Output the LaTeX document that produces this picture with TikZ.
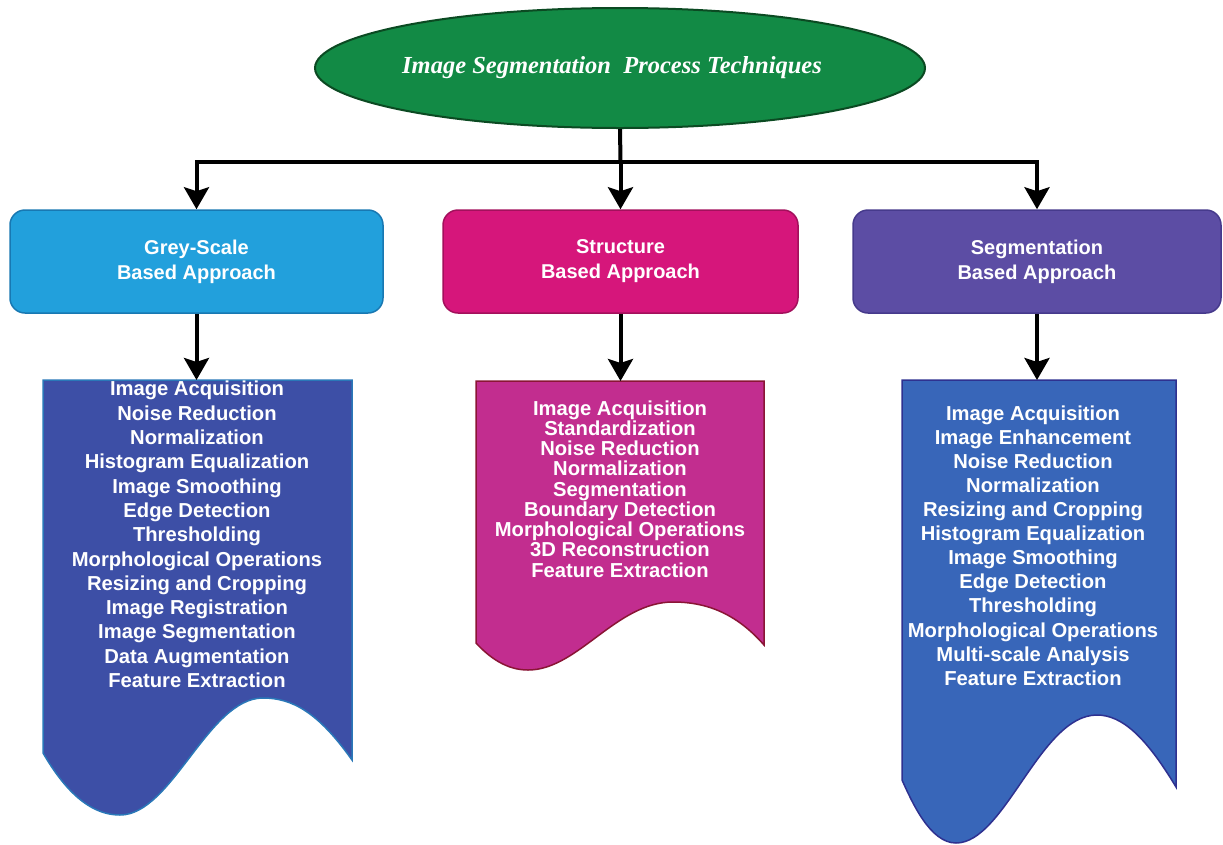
\documentclass[tikz,border=0pt]{standalone}
\usepackage{fontspec}
\setmainfont{Liberation Sans}
\newfontfamily\titlefont{Liberation Serif}
\usetikzlibrary{arrows.meta,shapes.geometric}

\definecolor{rootfill}{HTML}{128A45}
\definecolor{rootline}{HTML}{0B4A22}
\definecolor{greyfill}{HTML}{22A0DC}
\definecolor{greyline}{HTML}{1878B2}
\definecolor{structfill}{HTML}{D6167B}
\definecolor{structline}{HTML}{A3105C}
\definecolor{segfill}{HTML}{5C4DA4}
\definecolor{segline}{HTML}{463A8C}
\definecolor{greydoc}{HTML}{3D4FA6}
\definecolor{greydocline}{HTML}{2A78B8}
\definecolor{structdoc}{HTML}{C22D8F}
\definecolor{structdocline}{HTML}{8A1535}
\definecolor{segdoc}{HTML}{3866B9}
\definecolor{segdocline}{HTML}{2E3190}

\tikzset{
  approach/.style={rounded corners=15pt, line width=1.5pt, minimum height=103pt,
    align=center, text=white, font=\bfseries\fontsize{20}{25}\selectfont},
  conn/.style={line width=4pt, black},
  arr/.style={conn, -{Stealth[width=25pt,length=22pt,inset=4pt]}},
  docshape/.style={line width=1.5pt},
  listtext/.style={align=center, text=white, inner sep=0pt,
    font=\bfseries\fontsize{20.2}{24.3}\selectfont},
}

\begin{document}
\begin{tikzpicture}[x=1pt,y=-1pt]
\useasboundingbox (0,0) rectangle (1223,844);

% root ellipse and its caption
\node[ellipse, fill=rootfill, draw=rootline, line width=2pt,
      minimum width=610pt, minimum height=120pt] (root) at (620,68) {};
\node[text=white, inner sep=0pt,
      font=\titlefont\bfseries\itshape\fontsize{24.5}{28}\selectfont]
      (title) at (612,68) {Image Segmentation\ \ Process Techniques};

% three approach boxes
\node[approach, fill=greyfill, draw=greyline, minimum width=373pt]
      (grey) at (196.5,261.5) {Grey-Scale\\Based Approach};
\node[approach, fill=structfill, draw=structline, minimum width=355pt]
      (struct) at (620.5,261.5) {Structure\\Based Approach};
\node[approach, fill=segfill, draw=segline, minimum width=368pt]
      (seg) at (1037,261.5) {Segmentation\\Based Approach};

% document shapes with wavy bottoms
\draw[docshape, fill=greydoc, draw=greydocline]
  (43,380) -- (352,380) -- (352,760)
  .. controls (318,712) and (292,698) .. (263,698)
  .. controls (208,698) and (172,815) .. (120,815)
  .. controls (85,815) and (60,782) .. (43,753) -- cycle;
\coordinate (greydocTop) at (196.5,380);

\draw[docshape, fill=structdoc, draw=structdocline]
  (476,381) -- (764,381) -- (764,645)
  .. controls (736,613) and (706,602) .. (673,602)
  .. controls (616,602) and (578,670) .. (528,670)
  .. controls (506,670) and (489,657) .. (476,643) -- cycle;
\coordinate (structdocTop) at (620.5,381);

\draw[docshape, fill=segdoc, draw=segdocline]
  (902,380) -- (1176,380) -- (1176,787)
  .. controls (1146,737) and (1122,715) .. (1097,715)
  .. controls (1040,715) and (1005,843) .. (956,843)
  .. controls (930,843) and (912,802) .. (902,780) -- cycle;
\coordinate (segdocTop) at (1037,380);

% step lists
\node[listtext] (greylist) at (197,534.5) {Image Acquisition\\Noise Reduction\\Normalization\\Histogram Equalization\\Image Smoothing\\Edge Detection\\Thresholding\\Morphological Operations\\Resizing and Cropping\\Image Registration\\Image Segmentation\\Data Augmentation\\Feature Extraction};
\node[listtext, font=\bfseries\fontsize{20.2}{20.25}\selectfont] (structlist) at (620,489) {Image Acquisition\\Standardization\\Noise Reduction\\Normalization\\Segmentation\\Boundary Detection\\Morphological Operations\\3D Reconstruction\\Feature Extraction};
\node[listtext, font=\bfseries\fontsize{20.2}{24.1}\selectfont] (seglist) at (1033,545.5) {Image Acquisition\\Image Enhancement\\Noise Reduction\\Normalization\\Resizing and Cropping\\Histogram Equalization\\Image Smoothing\\Edge Detection\\Thresholding\\Morphological Operations\\Multi-scale Analysis\\Feature Extraction};

% connectors
\coordinate (hub) at (620.5,162);
\coordinate (hubL) at (196.5,162);
\coordinate (hubR) at (1037,162);
\draw[conn] (root.south) -- (hub);
\draw[conn, line cap=rect] (hubL) -- (hubR);
\draw[arr] (hubL) -- (grey.north);
\draw[arr] (hub) -- (struct.north);
\draw[arr] (hubR) -- (seg.north);
\draw[arr] (grey.south) -- (greydocTop);
\draw[arr] (struct.south) -- (structdocTop);
\draw[arr] (seg.south) -- (segdocTop);
\end{tikzpicture}
\end{document}
